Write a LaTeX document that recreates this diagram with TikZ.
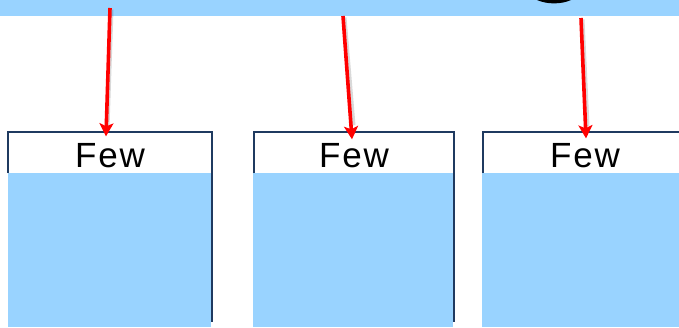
\documentclass[tikz,border=0pt]{standalone}
\usepackage{fontspec}
\setmainfont{Liberation Sans}
\usetikzlibrary{arrows.meta}
\definecolor{skyb}{HTML}{99D3FF}
\definecolor{navy}{HTML}{1F3A60}
\definecolor{arrred}{HTML}{FF0000}
\begin{document}
\begin{tikzpicture}[x=1pt,y=-1pt,
  band/.style={fill=skyb},
  body/.style={fill=skyb},
  frame/.style={draw=navy,line width=2.2pt},
  hdr/.style={minimum width=204pt,minimum height=41pt,inner sep=0pt,
    font=\fontsize{35}{40}\selectfont\addfontfeature{LetterSpace=5}},
  arr/.style={draw=arrred,line width=3.6pt,-{Stealth[length=13pt,width=14pt,inset=3pt]}},
  shad/.style={draw=black,opacity=0.15,line width=4pt}]
\useasboundingbox (0,0) rectangle (679,327);
% top band with the foot of a cut-off glyph
\fill[band] (0,0) rectangle (679,16);
\fill[black] (537,0) .. controls (547,4.5) and (561,4.5) .. (571,0) -- cycle;
% box bodies
\fill[body] (8,173) rectangle (211,327);
\fill[body] (253,173) rectangle (453,327);
\fill[body] (482,173) rectangle (679,327);
% frames
\draw[frame] (8,173) -- (8,132) -- (212,132) -- (212,322);
\draw[frame] (254,173) -- (254,132) -- (454,132) -- (454,322);
\draw[frame] (483,173) -- (483,132) -- (690,132);
% headers
\node[hdr] (few1) at (110,155.5) {Few};
\node[hdr] (few2) at (354,155.5) {Few};
\node[hdr] (few3) at (585,155.5) {Few};
% arrow sources
\coordinate (s1) at (110,8);
\coordinate (s2) at (343,16);
\coordinate (s3) at (581,18);
% shadows
\draw[shad] ([shift={(1.5,1.5)}]s1) -- ([shift={(-2.5,-7.5)}]few1.north);
\draw[shad] ([shift={(1.5,1.5)}]s2) -- ([shift={(-0.5,-9.5)}]few2.north);
\draw[shad] ([shift={(1.5,1.5)}]s3) -- ([shift={(2.5,-8.5)}]few3.north);
% arrows
\draw[arr] (s1) -- ([xshift=-4pt,yshift=-1.5pt]few1.north);
\draw[arr] (s2) -- ([xshift=-2pt,yshift=-4.5pt]few2.north);
\draw[arr] (s3) -- ([xshift=1pt,yshift=-3.5pt]few3.north);
\end{tikzpicture}
\end{document}
